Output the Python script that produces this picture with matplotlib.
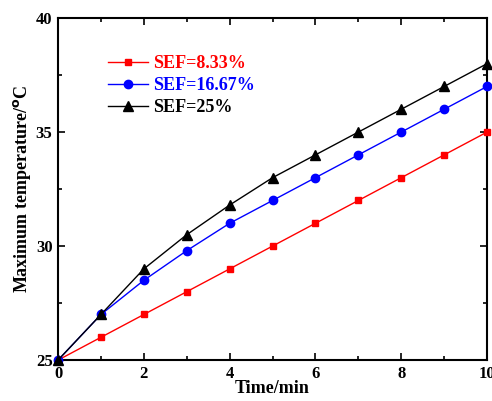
import matplotlib.pyplot as plt
from matplotlib.ticker import MultipleLocator

plt.rcParams['font.family'] = ['Liberation Serif', 'DejaVu Serif']
plt.rcParams['font.weight'] = 'bold'

# Data
time_min = [0, 1, 2, 3, 4, 5, 6, 7, 8, 9, 10]
sef_833 = [25, 26, 27, 28, 29, 30, 31, 32, 33, 34, 35]
sef_1667 = [25, 27, 28.5, 29.8, 31, 32, 33, 34, 35, 36, 37]
sef_25 = [25, 27, 29, 30.5, 31.8, 33, 34, 35, 36, 37, 38]

fig = plt.figure(figsize=(4.92, 4.01), dpi=100)
ax = fig.add_axes([0.118, 0.102, 0.872, 0.853])

ax.plot(time_min, sef_833, color='red', marker='s', markersize=5, lw=1, label='SEF=8.33%', clip_on=False, zorder=3)
ax.plot(time_min, sef_1667, color='blue', marker='o', markersize=6, lw=1, label='SEF=16.67%', clip_on=False, zorder=3)
ax.plot(time_min, sef_25, color='black', marker='^', markersize=6.5, lw=1, label='SEF=25%', clip_on=False, zorder=3)

ax.set_xlim(0, 10)
ax.set_ylim(25, 40)
ax.xaxis.set_major_locator(MultipleLocator(2))
ax.xaxis.set_minor_locator(MultipleLocator(1))
ax.yaxis.set_major_locator(MultipleLocator(5))
ax.yaxis.set_minor_locator(MultipleLocator(2.5))
ax.tick_params(which='both', direction='in', top=True, right=True, width=1.2, labelsize=12, pad=4)
ax.tick_params(which='major', length=5)
ax.tick_params(which='minor', length=3)
for sp in ax.spines.values():
    sp.set_linewidth(1.5)

ax.set_xlabel('Time/min', fontsize=13, fontweight='bold', labelpad=-1)
ax.set_ylabel('Maximum temperature/$^{\\rm o}$C', fontsize=13, fontweight='bold', labelpad=2)

leg = ax.legend(loc='upper left', bbox_to_anchor=(0.117, 0.892), frameon=False,
                prop={'size': 13, 'weight': 'bold'}, handlelength=2.2, handletextpad=0.3,
                labelspacing=0.28, borderpad=0, borderaxespad=0)
for txt, line in zip(leg.get_texts(), leg.get_lines()):
    txt.set_color(line.get_color())

plt.savefig('out.png', dpi=100)
